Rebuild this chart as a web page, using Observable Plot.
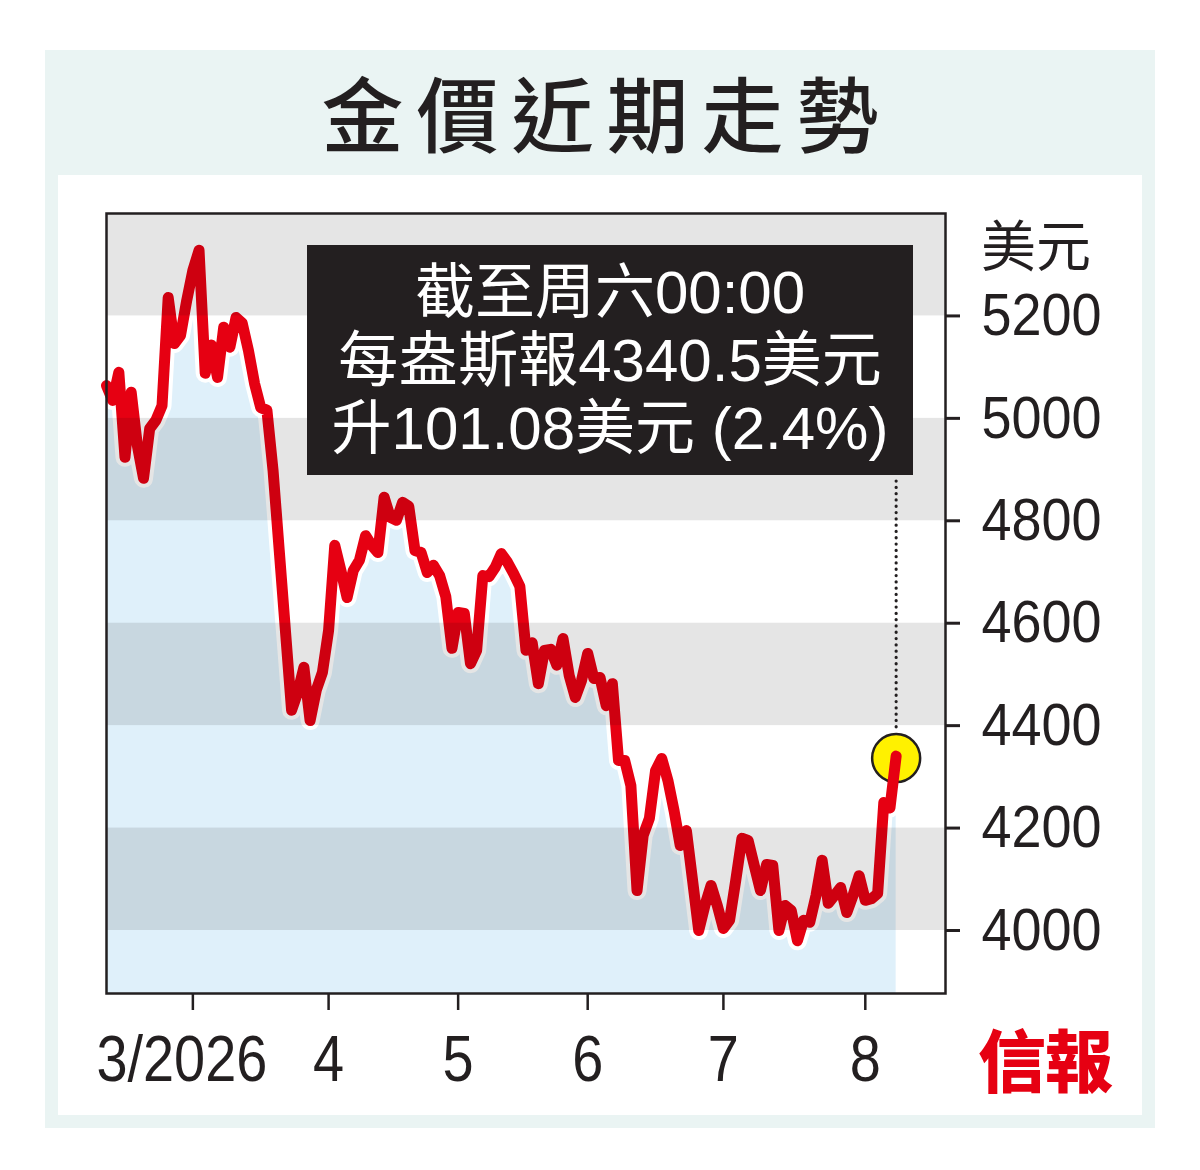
<!DOCTYPE html>
<html>
<head>
<meta charset="utf-8">
<script src="https://cdn.jsdelivr.net/npm/d3@7"></script>
<script src="https://cdn.jsdelivr.net/npm/@observablehq/plot@0.6"></script>
<style>
  html, body { margin: 0; padding: 0; background: #ffffff; }
  #page { position: relative; width: 1200px; height: 1170px; overflow: hidden; }
  #outer { position: absolute; left: 45px; top: 50px; width: 1110px; height: 1078px; background: #eaf4f3; }
  #title { position: absolute; left: 45px; top: 70px; width: 1110px; text-align: center;
    font-family: "Noto Sans CJK TC", sans-serif; font-weight: 500; font-size: 82px; line-height: 82px;
    letter-spacing: 13px; padding-left: 13px; box-sizing: border-box; color: #231f20; }
  #panel { position: absolute; left: 58px; top: 175px; width: 1084px; height: 940px; background: #ffffff; }
  #chart { position: absolute; left: 58px; top: 175px; }
  #note { position: absolute; left: 307px; top: 245px; width: 606px; height: 230px; background: #231f20;
    color: #ffffff; text-align: center; font-family: "Liberation Sans", "Noto Sans CJK TC", sans-serif;
    font-size: 60px; line-height: 68px; padding-top: 14px; box-sizing: border-box; }
  #unit { position: absolute; left: 981px; top: 220px; font-family: "Liberation Sans", "Noto Sans CJK TC", sans-serif;
    font-size: 55px; line-height: 55px; color: #231f20; }
  #logo { position: absolute; left: 978px; top: 1024px; font-family: "Noto Sans CJK TC", sans-serif;
    font-weight: 900; font-size: 68px; line-height: 68px; color: #e60012; letter-spacing: -1px; }
</style>
</head>
<body>
<div id="page">
  <div id="outer"></div>
  <div id="title">金價近期走勢</div>
  <div id="panel"></div>
  <div id="chart"></div>
  <div id="note"></div>
  <div id="unit">美元</div>
  <div id="logo">信報</div>
</div>
<script>
// ---- data ----
const startDate = "2026-02-10";
const endDate = "2026-08-07";
const holidays = ["2026-04-03"];
const snapshotDate = "2026-08-08"; // 周六00:00
const prices = [
  5064, 5035, 5090, 4924, 5051, 4947, 4883, 4980, 4996, 5025,
  5236, 5146, 5162, 5230, 5289, 5328, 5088, 5143, 5080, 5178,
  5139, 5197, 5186, 5133, 5068, 5021, 5016, 4898, 4742, 4586,
  4430, 4465, 4514, 4410, 4469, 4504, 4586, 4752, 4703, 4650,
  4703, 4723, 4771, 4752, 4738, 4846, 4807, 4801, 4836, 4828,
  4742, 4738, 4699, 4713, 4693, 4652, 4551, 4621, 4619, 4521,
  4547, 4693, 4691, 4709, 4736, 4719, 4697, 4672, 4547, 4562,
  4482, 4547, 4549, 4518, 4570, 4498, 4455, 4488, 4541, 4492,
  4494, 4439, 4482, 4332, 4332, 4283, 4078, 4186, 4219, 4312,
  4336, 4293, 4234, 4166, 4195, 4098, 4000, 4049, 4088, 4049,
  4004, 4020, 4098, 4180, 4176, 4127, 4078, 4129, 4127, 4000,
  4049, 4039, 3980, 4020, 4016, 4068, 4137, 4053, 4068, 4084,
  4035, 4068, 4107, 4059, 4062, 4072, 4250, 4239.42, 4340.5
];
const yTicks = [4000, 4200, 4400, 4600, 4800, 5000, 5200];
const monthLabels = ["3/2026", "4", "5", "6", "7", "8"];
const noteLines = ["截至周六00:00", "每盎斯報4340.5美元", "升101.08美元 (2.4%)"];
const yDomain = [3877, 5400];
const xDomain = [0, 136];

// ---- trading-day calendar ----
const fmt = d3.utcFormat("%Y-%m-%d");
const days = d3.utcDays(new Date(startDate + "T00:00:00Z"), d3.utcDay.offset(new Date(endDate + "T00:00:00Z"), 1))
  .filter(d => d.getUTCDay() !== 0 && d.getUTCDay() !== 6 && !holidays.includes(fmt(d)));
days.push(new Date(snapshotDate + "T00:00:00Z"));
const data = prices.map((p, i) => ({i, date: days[i], price: p}));

// first trading day of each month (from March)
const monthTicks = [];
for (let k = 1; k < data.length; k++) {
  if (data[k].date.getUTCMonth() !== data[k - 1].date.getUTCMonth() && fmt(data[k].date) !== snapshotDate) monthTicks.push(k);
}
const tickLabel = new Map(monthTicks.map((t, j) => [t, monthLabels[j]]));

const bands = yTicks.filter((t, j) => j % 2 === 0).map(t => ({y1: t, y2: Math.min(t + 200, yDomain[1])}));
const last = data[data.length - 1];

document.getElementById("note").innerHTML = noteLines.map(s => `<div>${s}</div>`).join("");

const ink = "#231f20";
const chart = Plot.plot({
  width: 1084,
  height: 940,
  marginLeft: 48,
  marginRight: 197,
  marginTop: 38,
  marginBottom: 122,
  style: {background: "transparent", color: ink, overflow: "visible",
    fontFamily: "'Liberation Sans', 'Noto Sans CJK TC', sans-serif"},
  x: {type: "linear", domain: xDomain, axis: null},
  y: {domain: yDomain, axis: null},
  marks: [
    Plot.areaY(data, {x: "i", y1: () => yDomain[0], y2: "price", fill: "#dff0fa"}),
    Plot.lineY(data, {x: "i", y: "price", stroke: "#ffffff", strokeWidth: 19, strokeLinejoin: "round", strokeLinecap: "round"}),
    Plot.dot([last], {x: "i", y: "price", r: 24, dy: 2, fill: "#fff100", stroke: ink, strokeWidth: 2.5}),
    Plot.lineY(data, {x: "i", y: "price", stroke: "#e60012", strokeWidth: 11, strokeLinejoin: "round", strokeLinecap: "round"}),
    Plot.rect(bands, {x1: xDomain[0], x2: xDomain[1], y1: "y1", y2: "y2", fill: "#000000", fillOpacity: 0.1, inset: 0}),
    Plot.ruleX([last], {x: "i", y1: () => yDomain[1], y2: "price", stroke: ink, strokeWidth: 3.2,
      strokeDasharray: "0.1,6.2", strokeLinecap: "round", insetTop: 268, insetBottom: 26}),
    Plot.frame({stroke: ink, strokeWidth: 2.5}),
    Plot.axisY({anchor: "right", ticks: yTicks, tickSize: 14, tickPadding: 22, fontSize: 60,
      stroke: ink, strokeWidth: 3, label: null, tickFormat: d => String(d)}),
    Plot.axisX({anchor: "bottom", ticks: monthTicks, tickSize: 17, tickPadding: 24, fontSize: 65,
      stroke: ink, strokeWidth: 2.5, label: null, tickFormat: d => tickLabel.get(d)})
  ]
});
document.getElementById("chart").appendChild(chart);

// condensed look for tick labels
chart.querySelectorAll('g[aria-label="y-axis tick label"] text').forEach(t => {
  t.setAttribute("transform", (t.getAttribute("transform") || "") + " scale(0.9,1)");
});
chart.querySelectorAll('g[aria-label="x-axis tick label"] text').forEach((t, j) => {
  const tr = t.getAttribute("transform") || "";
  t.setAttribute("transform", (j === 0 ? "translate(-11,0) " : "") + tr + " scale(0.86,1)");
});
</script>
</body>
</html>
